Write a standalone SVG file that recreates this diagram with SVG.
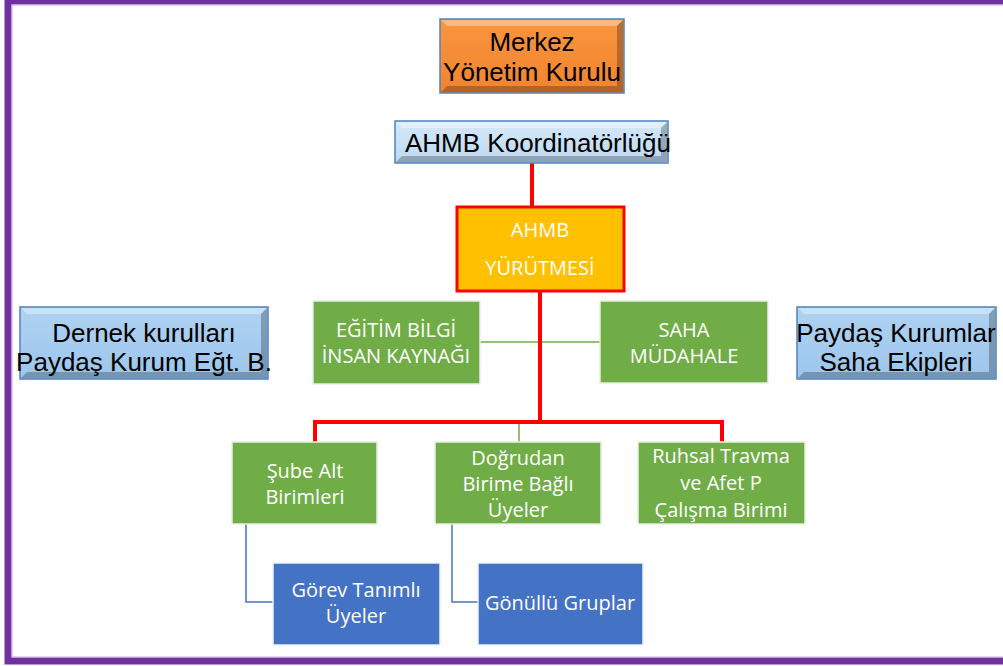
<svg xmlns="http://www.w3.org/2000/svg" width="1003" height="666" viewBox="0 0 1003 666">
<defs>
<style>
.t24{font-family:"Liberation Sans",Arial,sans-serif;font-size:26px;fill:#000;text-anchor:middle}
.tw{font-family:"Open Sans","Noto Sans",sans-serif;font-size:20px;fill:#fff;text-anchor:middle}
.green{fill:#70AD47;stroke:#E8EFE2;stroke-width:1.5}
.blue{fill:#4472C4;stroke:#EEF1F8;stroke-width:1.5}
.red{stroke:#FF0000;stroke-width:4;fill:none}
.thin-g{stroke:#70AD47;stroke-width:1.5;fill:none}
.thin-b{stroke:#4472C4;stroke-width:1.5;fill:none}
.hl{fill:#fff;opacity:0.35}
.sh{fill:#000;opacity:0.25}
</style>
<linearGradient id="gOr" x1="0" y1="0" x2="0" y2="1">
<stop offset="0" stop-color="#F8953F"/><stop offset="1" stop-color="#F2842E"/>
</linearGradient>
<linearGradient id="gLb" x1="0" y1="0" x2="0" y2="1">
<stop offset="0" stop-color="#D6E8F8"/><stop offset="1" stop-color="#BCD9F2"/>
</linearGradient>
<linearGradient id="gMb" x1="0" y1="0" x2="0" y2="1">
<stop offset="0" stop-color="#B0D2F2"/><stop offset="1" stop-color="#9CC6EC"/>
</linearGradient>
</defs>
<rect x="0" y="0" width="1003" height="666" fill="#fff"/>
<rect x="8" y="1" width="1010" height="660" fill="none" stroke="#7030A0" stroke-width="7"/>
<rect x="12" y="5" width="1000" height="652" fill="none" stroke="#C9A8E0" stroke-width="1"/>

<g id="connectors">
<line class="red" x1="532" y1="163" x2="532" y2="207"/>
<line class="thin-g" x1="480" y1="342" x2="600" y2="342"/>
<line class="thin-g" x1="519" y1="422" x2="519" y2="442"/>
<polyline class="red" points="540,291 540,422"/>
<polyline class="red" points="315,442 315,422 722,422 722,442"/>
<polyline class="thin-b" points="246,524 246,602 273,602"/>
<polyline class="thin-b" points="452,524 452,602 478,602"/>
</g>

<g id="merkez">
<rect x="440" y="19" width="184" height="74" fill="url(#gOr)" stroke="#4F81BD" stroke-width="1.5"/>
<polygon class="hl" points="441,20 623,20 617,26 447,26"/>
<polygon class="sh" points="441,92 623,92 617,86 447,86"/>
<polygon class="sh" points="623,20 623,92 617,86 617,26" opacity="0.15"/>
<text class="t24" x="532" y="51">Merkez</text>
<text class="t24" x="532" y="81">Yönetim Kurulu</text>
</g>

<g id="koordinatorluk">
<rect x="395" y="121" width="273" height="42" fill="url(#gLb)" stroke="#4F81BD" stroke-width="1.5"/>
<polygon class="hl" points="396,122 667,122 661,128 402,128"/>
<polygon class="sh" points="396,162 667,162 661,156 402,156" opacity="0.2"/>
<polygon class="sh" points="667,122 667,162 661,156 661,128" opacity="0.2"/>
<text x="405" y="152" style="font-family:'Liberation Sans',Arial,sans-serif;font-size:26px;fill:#000">AHMB Koordinatörlüğü</text>
</g>

<g id="yurutme">
<rect x="457" y="207" width="167" height="84" fill="#FFC000" stroke="#FF0000" stroke-width="3"/>
<text class="tw" x="540" y="237">AHMB</text>
<text class="tw" x="540" y="275">YÜRÜTMESİ</text>
</g>

<g id="egitim">
<rect class="green" x="313" y="301" width="167" height="83"/>
<text class="tw" x="396" y="337">EĞİTİM BİLGİ</text>
<text class="tw" x="396" y="363">İNSAN KAYNAĞI</text>
</g>

<g id="saha">
<rect class="green" x="600" y="301" width="168" height="82"/>
<text class="tw" x="684" y="337">SAHA</text>
<text class="tw" x="684" y="363">MÜDAHALE</text>
</g>

<g id="dernek">
<rect x="20" y="307" width="248" height="72" fill="url(#gMb)" stroke="#4F81BD" stroke-width="1.5"/>
<polygon class="hl" points="21,308 267,308 261,314 27,314"/>
<polygon class="sh" points="21,378 267,378 261,372 27,372" opacity="0.2"/>
<polygon class="sh" points="267,308 267,378 261,372 261,314" opacity="0.25"/>
<text class="t24" x="144" y="342">Dernek kurulları</text>
<text class="t24" x="144" y="371">Paydaş Kurum Eğt. B.</text>
</g>

<g id="paydas">
<rect x="797" y="307" width="199" height="72" fill="url(#gMb)" stroke="#4F81BD" stroke-width="1.5"/>
<polygon class="hl" points="798,308 995,308 989,314 804,314"/>
<polygon class="sh" points="798,378 995,378 989,372 804,372" opacity="0.2"/>
<polygon class="sh" points="995,308 995,378 989,372 989,314" opacity="0.25"/>
<text class="t24" x="896" y="342">Paydaş Kurumlar</text>
<text class="t24" x="896" y="371">Saha Ekipleri</text>
</g>

<g id="sube">
<rect class="green" x="232" y="442" width="145" height="82"/>
<text class="tw" x="305" y="478">Şube Alt</text>
<text class="tw" x="305" y="504">Birimleri</text>
</g>

<g id="dogrudan">
<rect class="green" x="435" y="442" width="166" height="82"/>
<text class="tw" x="518" y="465">Doğrudan</text>
<text class="tw" x="518" y="491">Birime Bağlı</text>
<text class="tw" x="518" y="517">Üyeler</text>
</g>

<g id="ruhsal">
<rect class="green" x="638" y="442" width="167" height="82"/>
<text class="tw" x="721" y="463">Ruhsal Travma</text>
<text class="tw" x="721" y="490">ve Afet P</text>
<text class="tw" x="721" y="517">Çalışma Birimi</text>
</g>

<g id="gorev">
<rect class="blue" x="273" y="563" width="167" height="82"/>
<text class="tw" x="356" y="597">Görev Tanımlı</text>
<text class="tw" x="356" y="623">Üyeler</text>
</g>

<g id="gonullu">
<rect class="blue" x="478" y="563" width="165" height="82"/>
<text class="tw" x="560" y="610">Gönüllü  Gruplar</text>
</g>
</svg>
